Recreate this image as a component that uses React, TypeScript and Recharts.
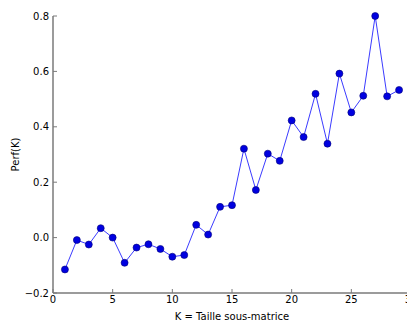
import { LineChart, Line, XAxis, YAxis, Label } from 'recharts';

const ks = [1, 2, 3, 4, 5, 6, 7, 8, 9, 10, 11, 12, 13, 14, 15, 16, 17, 18, 19, 20, 21, 22, 23, 24, 25, 26, 27, 28, 29];
const perf = [
  -0.115, -0.009, -0.025, 0.034, 0.0, -0.091, -0.036, -0.024, -0.041, -0.069,
  -0.063, 0.046, 0.011, 0.111, 0.117, 0.321, 0.172, 0.303, 0.277, 0.423,
  0.363, 0.519, 0.339, 0.592, 0.452, 0.512, 0.8, 0.51, 0.533,
];
const xTicks = [0, 5, 10, 15, 20, 25, 30];
const yTicks = [-0.2, 0, 0.2, 0.4, 0.6, 0.8];

const data = ks.map((k, i) => ({ k, perf: perf[i] }));

const font = 'DejaVu Sans';
const spine = '#7a7a7a';

const fmtY = (v: number) => (v < 0 ? '\u2212' + Math.abs(v).toFixed(1) : v.toFixed(1));

const App = () => {
  return (
    <div style={{ position: 'absolute', left: 0, top: 0, width: 407, height: 322, overflow: 'hidden', background: '#fff' }}>
      <LineChart
        width={421}
        height={322}
        data={data}
        margin={{ top: 16, right: 10, left: 0, bottom: 0 }}
        style={{ fontFamily: font }}
      >
        <XAxis
          dataKey="k"
          type="number"
          domain={[0, 30]}
          ticks={xTicks}
          allowDataOverflow
          height={29}
          tickSize={-4}
          tickMargin={7}
          axisLine={{ stroke: spine, strokeWidth: 1.5 }}
          tickLine={{ stroke: spine }}
          tick={{ fill: '#000', fontSize: 10 }}
        >
          <Label value="K = Taille sous-matrice" position="insideBottom" offset={2} style={{ fill: '#000', fontSize: 10 }} />
        </XAxis>
        <XAxis
          xAxisId="top"
          orientation="top"
          dataKey="k"
          type="number"
          domain={[0, 30]}
          ticks={xTicks}
          height={0}
          tickSize={-4}
          tickFormatter={() => ''}
          axisLine={{ stroke: spine, strokeWidth: 1.5 }}
          tickLine={{ stroke: spine }}
        />
        <YAxis
          type="number"
          domain={[-0.2, 0.8]}
          ticks={yTicks}
          width={53}
          tickSize={-4}
          tickMargin={8}
          tickFormatter={fmtY}
          axisLine={{ stroke: spine, strokeWidth: 1.5 }}
          tickLine={{ stroke: spine }}
          tick={{ fill: '#000', fontSize: 10 }}
        >
          <Label
            position="insideLeft"
            content={(props: any) => {
              const vb = props.viewBox || {};
              const cx = (vb.x || 0) + 19;
              const cy = (vb.y || 0) + (vb.height || 0) / 2;
              return (
                <text
                  x={cx}
                  y={cy}
                  transform={`rotate(-90 ${cx} ${cy})`}
                  textAnchor="middle"
                  fontSize={10}
                  fontFamily={font}
                  fill="#000"
                >
                  Perf(K)
                </text>
              );
            }}
          />
        </YAxis>
        <Line
          dataKey="perf"
          stroke="#3b3bff"
          strokeWidth={1}
          dot={{ r: 3.5, fill: '#0000e0', stroke: '#00007a', strokeWidth: 0.6 }}
          isAnimationActive={false}
        />
      </LineChart>
    </div>
  );
};

export default App;
